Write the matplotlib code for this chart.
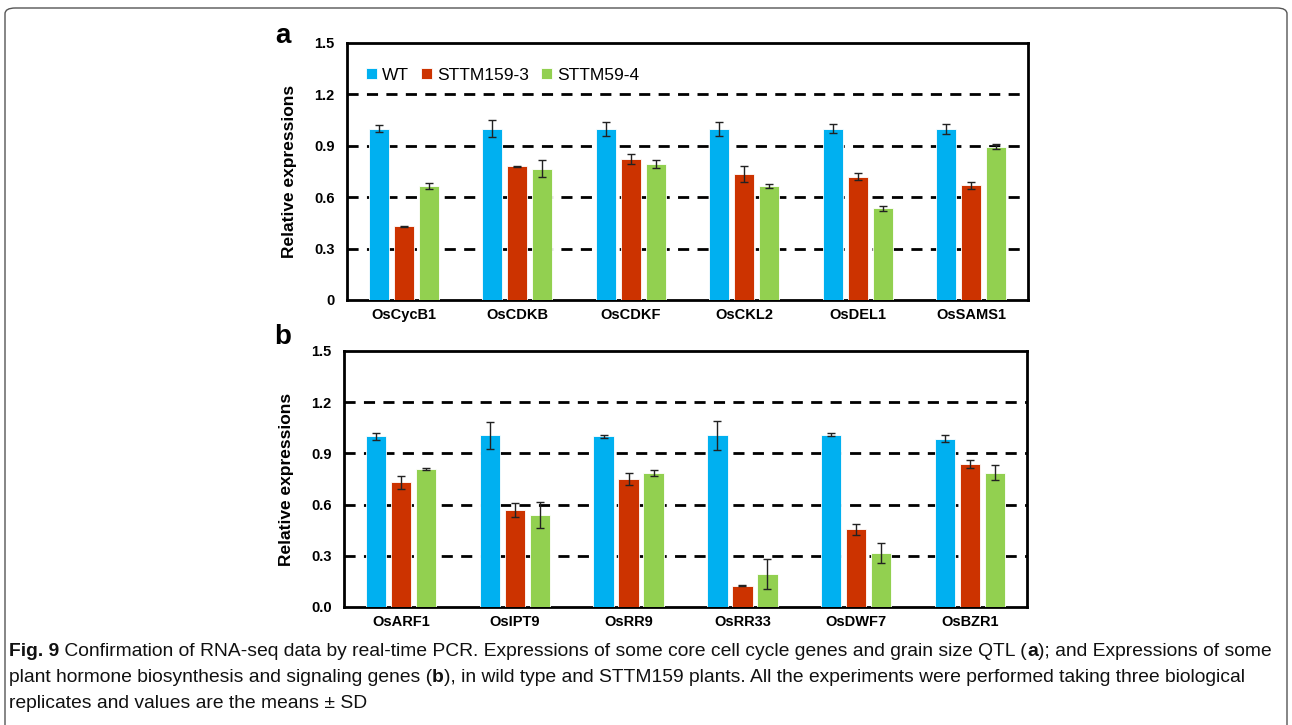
import numpy as np
import matplotlib
matplotlib.use('Agg')
import matplotlib.pyplot as plt
from matplotlib.patches import FancyBboxPatch

# panel a data
genes_a = ['OsCycB1', 'OsCDKB', 'OsCDKF', 'OsCKL2', 'OsDEL1', 'OsSAMS1']
wt_a = [1.0, 1.0, 1.0, 1.0, 1.0, 1.0]
wt_a_sd = [0.02, 0.05, 0.04, 0.04, 0.025, 0.03]
s3_a = [0.43, 0.78, 0.825, 0.735, 0.72, 0.67]
s3_a_sd = [0.003, 0.005, 0.03, 0.045, 0.02, 0.02]
s4_a = [0.665, 0.765, 0.795, 0.665, 0.535, 0.895]
s4_a_sd = [0.015, 0.05, 0.025, 0.01, 0.015, 0.015]

# panel b data
genes_b = ['OsARF1', 'OsIPT9', 'OsRR9', 'OsRR33', 'OsDWF7', 'OsBZR1']
wt_b = [1.0, 1.005, 1.0, 1.005, 1.01, 0.985]
wt_b_sd = [0.02, 0.08, 0.007, 0.083, 0.01, 0.02]
s3_b = [0.73, 0.568, 0.75, 0.125, 0.456, 0.837]
s3_b_sd = [0.04, 0.04, 0.034, 0.003, 0.032, 0.023]
s4_b = [0.81, 0.54, 0.785, 0.195, 0.316, 0.788]
s4_b_sd = [0.007, 0.078, 0.02, 0.088, 0.058, 0.044]

series_names = ['WT', 'STTM159-3', 'STTM59-4']
colors = ['#00B0F0', '#CC3300', '#92D050']
yticks = [0, 0.3, 0.6, 0.9, 1.2, 1.5]

fig = plt.figure(figsize=(12.92, 7.25), dpi=100)
W, H = 1292, 725

# outer frame
frame = FancyBboxPatch((5 / W, -0.05), 1282 / W, 0.05 + (H - 8) / H,
                       boxstyle='round,pad=0,rounding_size=0.008',
                       transform=fig.transFigure, fill=False, ec='#555555', lw=1.0)
fig.patches.append(frame)


def panel(rect, genes, vals, sds, ticklabels, letter, ly, legend=False):
    l, t, r, b = rect
    ax = fig.add_axes([l / W, 1 - b / H, (r - l) / W, (b - t) / H])
    x = np.arange(len(genes))
    bw = 0.178
    step = 0.22
    for i in range(3):
        ax.bar(x + (i - 1) * step, vals[i], bw, color=colors[i], edgecolor='white',
               linewidth=0.6, yerr=sds[i], capsize=3,
               error_kw=dict(elinewidth=1.0, capthick=1.0, ecolor='#222222'),
               label=series_names[i], zorder=3)
    ax.set_xlim(-0.5, len(genes) - 0.5)
    ax.set_ylim(0, 1.5)
    ax.set_yticks(yticks)
    ax.set_yticklabels(ticklabels, fontweight='bold', fontsize=10.5, family='Liberation Sans')
    ax.set_xticks(x)
    ax.set_xticklabels(genes, fontweight='bold', fontsize=10.5, family='Liberation Sans')
    ax.tick_params(length=0, pad=9)
    ax.tick_params(axis='x', pad=6)
    for yv in [0.3, 0.6, 0.9, 1.2]:
        ax.axhline(yv, color='black', ls=(0, (4, 3)), lw=2, zorder=1)
    for s in ax.spines.values():
        s.set_linewidth(2)
    ax.set_ylabel('Relative expressions', fontweight='bold', fontsize=12.5,
                  family='Liberation Sans', labelpad=12)
    fig.text(283 / W, 1 - ly / H, letter, fontsize=20, fontweight='bold',
             family='Liberation Sans', va='center', ha='center')
    if legend:
        ax.legend(loc='upper left', ncol=3, frameon=False,
                  prop={'family': 'Liberation Sans', 'size': 12.5},
                  handlelength=0.62, handleheight=0.62, handletextpad=0.3,
                  columnspacing=0.7, bbox_to_anchor=(0.005, 0.965))
    return ax


panel((347, 43, 1028, 300), genes_a, [wt_a, s3_a, s4_a], [wt_a_sd, s3_a_sd, s4_a_sd],
      ['0', '0.3', '0.6', '0.9', '1.2', '1.5'], 'a', 36, legend=True)
panel((344, 351, 1027, 607), genes_b, [wt_b, s3_b, s4_b], [wt_b_sd, s3_b_sd, s4_b_sd],
      ['0.0', '0.3', '0.6', '0.9', '1.2', '1.5'], 'b', 337)

# caption with mixed bold pieces
lines = [
    [('Fig. 9', 'bold'), (' Confirmation of RNA-seq data by real-time PCR. Expressions of some core cell cycle genes and grain size QTL (', 'normal'),
     ('a', 'bold'), ('); and Expressions of some', 'normal')],
    [('plant hormone biosynthesis and signaling genes (', 'normal'), ('b', 'bold'),
     ('), in wild type and STTM159 plants. All the experiments were performed taking three biological', 'normal')],
    [('replicates and values are the means \u00b1 SD', 'normal')],
]
ys = [652, 678, 704]
fig.canvas.draw()
renderer = fig.canvas.get_renderer()
cap_font = 'Liberation Sans'


def line_width(segs, fs):
    w = 0
    for txt, wt in segs:
        tt = fig.text(0, 0, txt, fontsize=fs, fontweight=wt, family=cap_font)
        w += tt.get_window_extent(renderer=renderer).width
        tt.remove()
    return w


fs = 13.0
fs = fs * 1256 / line_width(lines[0], fs)
for segs, yy in zip(lines, ys):
    xx = 9
    for txt, wt in segs:
        tt = fig.text(xx / W, 1 - yy / H, txt, fontsize=fs, fontweight=wt,
                      family=cap_font, va='center', ha='left', color='#111111')
        xx += tt.get_window_extent(renderer=renderer).width

fig.savefig('out.png', dpi=100)
